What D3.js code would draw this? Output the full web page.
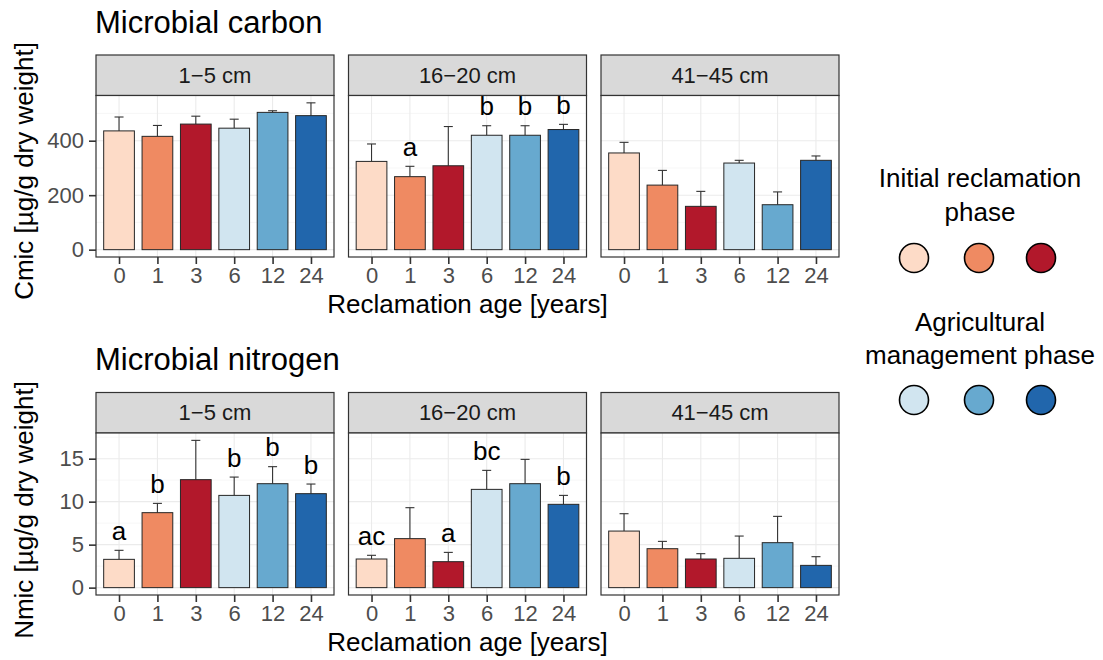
<!DOCTYPE html>
<html>
<head>
<meta charset="utf-8">
<script src="https://cdn.jsdelivr.net/npm/d3@7"></script>
<style>
  body { margin: 0; background: #fff; }
  svg { font-family: "Liberation Sans", Arial, sans-serif; }
</style>
</head>
<body>
<div id="chart"></div>
<script>
// Data
const ages = ["0", "1", "3", "6", "12", "24"];
const depths = ["1\u22125 cm", "16\u221220 cm", "41\u221245 cm"];
const barColors = ["#FDDBC7", "#EF8A62", "#B2182B", "#D1E5F0", "#67A9CF", "#2166AC"];

// Cmic mean and mean+se per depth
const cmicMean = [
    [436, 416, 461, 446, 504, 492],
    [324, 268, 308, 420, 420, 441],
    [355, 237, 159, 318, 165, 328]
];
const cmicTop = [
    [487, 456, 490, 479, 510, 539],
    [388, 306, 452, 455, 455, 460],
    [394, 291, 214, 328, 212, 344]
];
const cmicLetters = [
    ["", "", "", "", "", ""],
    ["", "a", "", "b", "b", "b"],
    ["", "", "", "", "", ""]
];

// Nmic mean and mean+se per depth
const nmicMean = [
    [3.29, 8.72, 12.56, 10.73, 12.09, 10.93],
    [3.33, 5.70, 3.02, 11.43, 12.09, 9.69],
    [6.58, 4.53, 3.33, 3.41, 5.23, 2.59]
];
const nmicTop = [
    [4.34, 9.80, 17.13, 12.86, 14.07, 12.05],
    [3.76, 9.30, 4.10, 13.64, 14.92, 10.73],
    [8.60, 5.38, 3.95, 6.00, 8.29, 3.60]
];
const nmicLetters = [
    ["a", "b", "", "b", "b", "b"],
    ["ac", "", "a", "bc", "", "b"],
    ["", "", "", "", "", ""]
];

const cmicTicks = [0, 200, 400];
const cmicMinor = [100, 300, 500];
const nmicTicks = [0, 5, 10, 15];
const nmicMinor = [2.5, 7.5, 12.5, 17.5];

const legendGroups = [
    { lines: ["Initial reclamation", "phase"], colors: barColors.slice(0, 3) },
    { lines: ["Agricultural", "management phase"], colors: barColors.slice(3) }
];

// Layout
const W = 1103, H = 660;
const panelX = [96, 348.5, 601];
const panelW = 238;
const stripH = 40.5;

const svg = d3.select("#chart").append("svg")
    .attr("width", W)
    .attr("height", H);

const x = d3.scalePoint().domain(ages).range([0, panelW]).padding(0.6);
const barW = x.step() * 0.8;

const rows = [
    {
        title: "Microbial carbon", ylab: "Cmic [\u00b5g/g dry weight]",
        mean: cmicMean, top: cmicTop, letters: cmicLetters,
        ticks: cmicTicks, minor: cmicMinor,
        stripTop: 55, panelBottom: 257, titleY: 33, xlabY: 313, ylabY: 171
    },
    {
        title: "Microbial nitrogen", ylab: "Nmic [\u00b5g/g dry weight]",
        mean: nmicMean, top: nmicTop, letters: nmicLetters,
        ticks: nmicTicks, minor: nmicMinor,
        stripTop: 392.5, panelBottom: 595, titleY: 370, xlabY: 651, ylabY: 510
    }
];

rows.forEach(row => {
    const panelTop = row.stripTop + stripH;
    const maxTop = d3.max(row.top.flat());
    const y = d3.scaleLinear()
        .domain([-0.05 * maxTop, 1.05 * maxTop])
        .range([row.panelBottom, panelTop]);

    // row title
    svg.append("text")
        .attr("x", 95)
        .attr("y", row.titleY)
        .attr("font-size", 31)
        .attr("fill", "#000")
        .text(row.title);

    // y axis title
    svg.append("text")
        .attr("transform", `translate(33,${row.ylabY}) rotate(-90)`)
        .attr("text-anchor", "middle")
        .attr("font-size", 26)
        .attr("fill", "#000")
        .text(row.ylab);

    // x axis title
    svg.append("text")
        .attr("x", (panelX[0] + panelX[2] + panelW) / 2)
        .attr("y", row.xlabY)
        .attr("text-anchor", "middle")
        .attr("font-size", 26)
        .attr("fill", "#000")
        .text("Reclamation age [years]");

    depths.forEach((depth, di) => {
        const g = svg.append("g")
            .attr("transform", `translate(${panelX[di]},0)`);

        // strip
        g.append("rect")
            .attr("x", 0).attr("y", row.stripTop)
            .attr("width", panelW).attr("height", stripH)
            .attr("fill", "#d9d9d9")
            .attr("stroke", "#333").attr("stroke-width", 1.2);
        g.append("text")
            .attr("x", panelW / 2)
            .attr("y", row.stripTop + stripH / 2)
            .attr("dy", "0.35em")
            .attr("text-anchor", "middle")
            .attr("font-size", 22)
            .attr("fill", "#1a1a1a")
            .text(depth);

        // panel background + grid
        g.append("rect")
            .attr("x", 0).attr("y", panelTop)
            .attr("width", panelW).attr("height", row.panelBottom - panelTop)
            .attr("fill", "#fff");

        g.selectAll(".minor")
            .data(row.minor.filter(v => y(v) > panelTop))
            .join("line")
            .attr("x1", 0).attr("x2", panelW)
            .attr("y1", d => y(d)).attr("y2", d => y(d))
            .attr("stroke", "#f2f2f2").attr("stroke-width", 0.6);
        g.selectAll(".major")
            .data(row.ticks)
            .join("line")
            .attr("x1", 0).attr("x2", panelW)
            .attr("y1", d => y(d)).attr("y2", d => y(d))
            .attr("stroke", "#ebebeb").attr("stroke-width", 1.1);
        g.selectAll(".vgrid")
            .data(ages)
            .join("line")
            .attr("x1", d => x(d)).attr("x2", d => x(d))
            .attr("y1", panelTop).attr("y2", row.panelBottom)
            .attr("stroke", "#ebebeb").attr("stroke-width", 1.1);

        // error bars (upper only)
        const err = g.selectAll(".err")
            .data(ages.map((a, i) => ({ a, m: row.mean[di][i], t: row.top[di][i] })))
            .join("g");
        err.append("line")
            .attr("x1", d => x(d.a)).attr("x2", d => x(d.a))
            .attr("y1", d => y(d.m)).attr("y2", d => y(d.t))
            .attr("stroke", "#333").attr("stroke-width", 1.1);
        err.append("line")
            .attr("x1", d => x(d.a) - 4.5).attr("x2", d => x(d.a) + 4.5)
            .attr("y1", d => y(d.t)).attr("y2", d => y(d.t))
            .attr("stroke", "#333").attr("stroke-width", 1.1);

        // bars
        g.selectAll(".bar")
            .data(ages.map((a, i) => ({ a, i, m: row.mean[di][i] })))
            .join("rect")
            .attr("x", d => x(d.a) - barW / 2)
            .attr("y", d => y(d.m))
            .attr("width", barW)
            .attr("height", d => y(0) - y(d.m))
            .attr("fill", d => barColors[d.i])
            .attr("stroke", "#262626").attr("stroke-width", 1);

        // letters
        g.selectAll(".letter")
            .data(ages.map((a, i) => ({ a, t: row.top[di][i], l: row.letters[di][i] })).filter(d => d.l))
            .join("text")
            .attr("x", d => x(d.a))
            .attr("y", d => y(d.t) - 10.5)
            .attr("text-anchor", "middle")
            .attr("font-size", 26)
            .attr("fill", "#000")
            .text(d => d.l);

        // panel border
        g.append("rect")
            .attr("x", 0).attr("y", panelTop)
            .attr("width", panelW).attr("height", row.panelBottom - panelTop)
            .attr("fill", "none")
            .attr("stroke", "#333").attr("stroke-width", 1.2);

        // x axis
        const xa = g.append("g")
            .attr("transform", `translate(0,${row.panelBottom})`)
            .call(d3.axisBottom(x).tickSize(7).tickPadding(3));
        xa.select(".domain").remove();
        xa.selectAll("line").attr("stroke", "#333").attr("stroke-width", 1.6);
        xa.selectAll("text")
            .attr("font-size", 22)
            .attr("font-family", "Liberation Sans, Arial, sans-serif")
            .attr("fill", "#4d4d4d");

        // y axis on the first panel only
        if (di === 0) {
            const ya = g.append("g")
                .call(d3.axisLeft(y).tickValues(row.ticks).tickSize(7).tickPadding(5));
            ya.select(".domain").remove();
            ya.selectAll("line").attr("stroke", "#333").attr("stroke-width", 1.6);
            ya.selectAll("text")
                .attr("font-size", 22)
                .attr("font-family", "Liberation Sans, Arial, sans-serif")
                .attr("fill", "#4d4d4d");
        }
    });
});

// legend
const legX = [914, 979, 1041];
const legendY = [
    { text: [178, 212], circles: 258 },
    { text: [322, 355], circles: 400 }
];
legendGroups.forEach((grp, gi) => {
    grp.lines.forEach((line, li) => {
        svg.append("text")
            .attr("x", 980)
            .attr("y", legendY[gi].text[li])
            .attr("dy", "0.35em")
            .attr("text-anchor", "middle")
            .attr("font-size", 26)
            .attr("fill", "#000")
            .text(line);
    });
    svg.selectAll(null)
        .data(grp.colors)
        .join("circle")
        .attr("cx", (d, i) => legX[i])
        .attr("cy", legendY[gi].circles)
        .attr("r", 14.5)
        .attr("fill", d => d)
        .attr("stroke", "#000").attr("stroke-width", 1.6);
});
</script>
</body>
</html>
